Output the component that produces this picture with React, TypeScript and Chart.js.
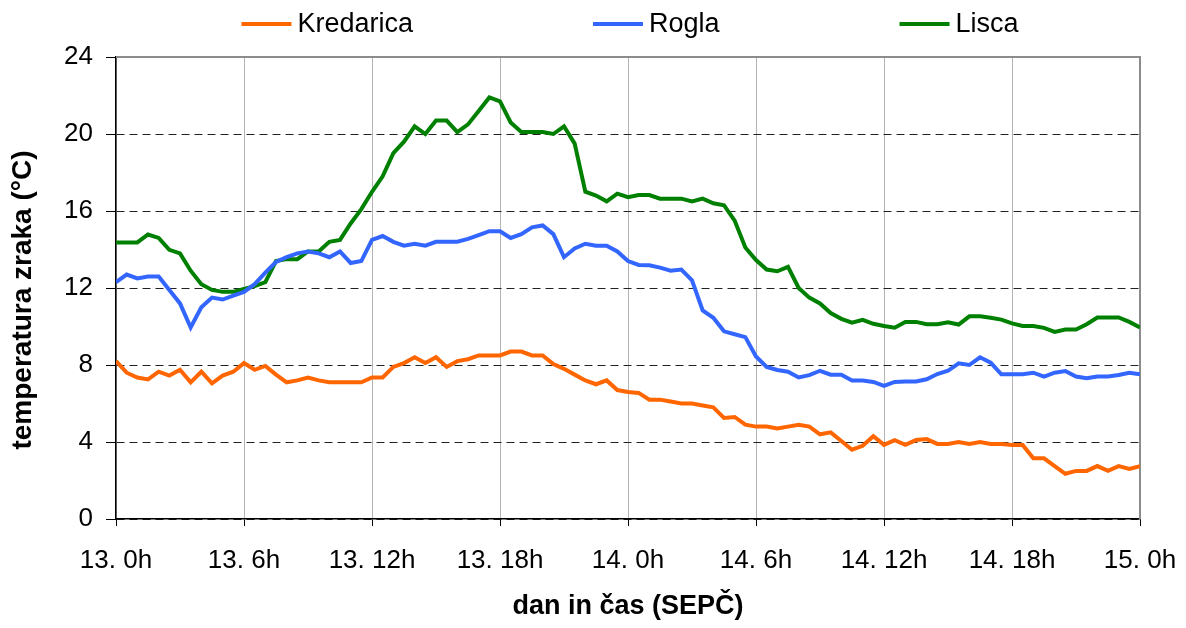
import React, { useEffect, useRef } from "react";
import { Chart, registerables } from "chart.js";

Chart.register(...registerables);

const seriesNames = ["Kredarica", "Rogla", "Lisca"];
const seriesColors = ["#FF6600", "#3366FF", "#008000"];

const kredarica = [
  8.2, 7.6, 7.35, 7.25, 7.65, 7.45, 7.75, 7.1, 7.65, 7.05, 7.45, 7.65, 8.1, 7.75, 7.95, 7.5,
  7.1, 7.2, 7.35, 7.2, 7.1, 7.1, 7.1, 7.1, 7.35, 7.35, 7.9, 8.1, 8.4, 8.1, 8.4, 7.9,
  8.2, 8.3, 8.5, 8.5, 8.5, 8.7, 8.7, 8.5, 8.5, 8.05, 7.8, 7.5, 7.2, 7.0, 7.2, 6.7,
  6.6, 6.55, 6.2, 6.2, 6.1, 6.0, 6.0, 5.9, 5.8, 5.25, 5.3, 4.9, 4.8, 4.8, 4.7, 4.8,
  4.9, 4.8, 4.4, 4.5, 4.05, 3.6, 3.8, 4.3, 3.85, 4.1, 3.85, 4.1, 4.15, 3.9, 3.9, 4.0,
  3.9, 4.0, 3.9, 3.9, 3.85, 3.85, 3.15, 3.15, 2.75, 2.35, 2.5, 2.5, 2.75, 2.5, 2.75, 2.6,
  2.75,
];

const rogla = [
  12.3, 12.7, 12.5, 12.6, 12.6, 11.9, 11.2, 9.95, 11.0, 11.5, 11.4, 11.6, 11.8, 12.2, 12.8, 13.35,
  13.6, 13.8, 13.9, 13.8, 13.6, 13.9, 13.3, 13.4, 14.5, 14.7, 14.4, 14.2, 14.3, 14.2, 14.4, 14.4,
  14.4, 14.55, 14.75, 14.95, 14.95, 14.6, 14.8, 15.15, 15.25, 14.8, 13.6, 14.05, 14.3, 14.2, 14.2, 13.9,
  13.4, 13.2, 13.18, 13.06, 12.9, 12.96, 12.4, 10.83, 10.45, 9.75, 9.6, 9.45, 8.44, 7.9, 7.74, 7.65,
  7.35, 7.47, 7.7, 7.5, 7.5, 7.2, 7.2, 7.12, 6.92, 7.12, 7.14, 7.14, 7.26, 7.53, 7.7, 8.09,
  8.0, 8.4, 8.12, 7.52, 7.52, 7.52, 7.6, 7.4, 7.6, 7.69, 7.4, 7.31, 7.4, 7.4, 7.48, 7.6,
  7.52,
];

const lisca = [
  14.37, 14.37, 14.37, 14.78, 14.6, 13.98, 13.8, 12.9, 12.2, 11.9, 11.8, 11.8, 11.95, 12.1, 12.3, 13.4,
  13.5, 13.5, 13.9, 13.9, 14.4, 14.5, 15.35, 16.1, 17.0, 17.8, 19.0, 19.6, 20.4, 20.0, 20.7, 20.7,
  20.1, 20.5, 21.2, 21.9, 21.7, 20.6, 20.1, 20.1, 20.1, 20.0, 20.4, 19.5, 17.0, 16.8, 16.5, 16.9,
  16.72, 16.83, 16.83, 16.64, 16.64, 16.64, 16.5, 16.64, 16.4, 16.3, 15.5, 14.1, 13.45, 12.96, 12.87, 13.1,
  12.0, 11.5, 11.2, 10.7, 10.4, 10.2, 10.35, 10.14, 10.03, 9.94, 10.24, 10.24, 10.12, 10.12, 10.22, 10.1,
  10.53, 10.53, 10.45, 10.36, 10.16, 10.03, 10.03, 9.93, 9.72, 9.84, 9.84, 10.12, 10.47, 10.47, 10.47, 10.24,
  9.95,
];

// hours since 13. 0h, one reading every half hour
const hours = kredarica.map((_, i) => i * 0.5);

const xTickValues = [0, 6, 12, 18, 24, 30, 36, 42, 48];
const xTickLabels = ["13. 0h", "13. 6h", "13. 12h", "13. 18h", "14. 0h", "14. 6h", "14. 12h", "14. 18h", "15. 0h"];
const yMin = 0;
const yMax = 24;
const yStep = 4;

const xTitle = "dan in čas (SEPČ)";
const yTitle = "temperatura zraka (°C)";

const FONT = "'Liberation Sans', Arial, Helvetica, sans-serif";

const legendPlugin = {
  id: "customLegend",
  afterDraw(chart: any) {
    const ctx = chart.ctx;
    const ca = chart.chartArea;
    ctx.save();
    ctx.font = `27px ${FONT}`;
    ctx.textBaseline = "middle";
    ctx.textAlign = "left";
    const sample = 50;
    const gapText = 6;
    const gap = 180;
    const items = chart.data.datasets.map((ds: any) => ({
      label: ds.label,
      color: ds.borderColor,
      w: sample + gapText + ctx.measureText(ds.label).width,
    }));
    const total = items.reduce((s: number, it: any) => s + it.w, 0) + gap * (items.length - 1);
    let x = (ca.left + ca.right) / 2 - total / 2 + 2;
    const y = 24;
    for (const it of items) {
      ctx.strokeStyle = it.color;
      ctx.lineWidth = 4;
      ctx.beginPath();
      ctx.moveTo(x, y);
      ctx.lineTo(x + sample, y);
      ctx.stroke();
      ctx.fillStyle = "#000";
      ctx.fillText(it.label, x + sample + gapText, y + 1);
      x += it.w + gap;
    }
    ctx.restore();
  },
};

const yTitlePlugin = {
  id: "yTitle",
  afterDraw(chart: any) {
    const ctx = chart.ctx;
    ctx.save();
    ctx.font = `bold 28px ${FONT}`;
    ctx.fillStyle = "#000";
    ctx.textAlign = "center";
    ctx.textBaseline = "middle";
    ctx.translate(23, 300);
    ctx.rotate(-Math.PI / 2);
    ctx.fillText(yTitle, 0, 0);
    ctx.restore();
  },
};

const framePlugin = {
  id: "frameTop",
  beforeDatasetsDraw(chart: any) {
    const ctx = chart.ctx;
    const ca = chart.chartArea;
    ctx.save();
    ctx.strokeStyle = "#8c8c8c";
    ctx.lineWidth = 2;
    ctx.beginPath();
    ctx.moveTo(ca.left, ca.top);
    ctx.lineTo(ca.right, ca.top);
    ctx.lineTo(ca.right, ca.bottom);
    ctx.stroke();
    ctx.restore();
  },
};

export default function App() {
  const canvasRef = useRef<HTMLCanvasElement | null>(null);

  useEffect(() => {
    if (!canvasRef.current) return;
    Chart.defaults.color = "#000";
    const seriesData = [kredarica, rogla, lisca];
    const chart = new Chart(canvasRef.current, {
      type: "line",
      data: {
        datasets: seriesData.map((vals, si) => ({
          label: seriesNames[si],
          data: vals.map((v, i) => ({ x: hours[i], y: v })),
          borderColor: seriesColors[si],
          backgroundColor: seriesColors[si],
          borderWidth: 4,
          pointRadius: 0,
          tension: 0,
          fill: false,
        })),
      },
      options: {
        animation: false,
        responsive: true,
        maintainAspectRatio: false,
        layout: { padding: { top: 57, right: 46, left: 0, bottom: 0 } },
        plugins: {
          legend: { display: false },
          tooltip: { enabled: false },
        },
        scales: {
          x: {
            type: "linear",
            min: 0,
            max: 48,
            afterBuildTicks: (scale: any) => {
              scale.ticks = xTickValues.map((v) => ({ value: v }));
            },
            afterFit: (scale: any) => {
              scale.height = 109;
            },
            ticks: {
              font: { family: FONT, size: 26, lineHeight: 2.0 },
              color: "#000",
              padding: 9,
              maxRotation: 0,
              autoSkip: false,
              callback: (value: any) => {
                const idx = xTickValues.indexOf(Number(value));
                return idx >= 0 ? xTickLabels[idx] : "";
              },
            },
            grid: {
              color: "#b4b4b4",
              lineWidth: 1,
              tickLength: 7,
              tickColor: "#000",
            },
            border: { color: "#000", width: 1.5 },
            title: {
              display: true,
              text: xTitle,
              font: { family: FONT, size: 27, weight: "bold" },
              color: "#000",
              padding: { top: 0, bottom: 5 },
            },
          },
          y: {
            min: yMin,
            max: yMax,
            afterFit: (scale: any) => {
              scale.width = 116;
            },
            ticks: {
              stepSize: yStep,
              font: { family: FONT, size: 26 },
              color: "#000",
              padding: 13,
            },
            grid: {
              color: (ctx: any) => (ctx.tick && ctx.tick.value === yMax ? "rgba(0,0,0,0)" : "#222"),
              lineWidth: 1,
              tickLength: 10,
              tickColor: "#000",
            },
            border: { color: "#000", width: 1.5, dash: [8, 5] },
            title: { display: false },
          },
        },
      },
      plugins: [framePlugin, legendPlugin, yTitlePlugin],
    });
    return () => chart.destroy();
  }, []);

  return (
    <div style={{ position: "fixed", left: 0, top: 0, width: 1186, height: 628, background: "#fff" }}>
      <canvas ref={canvasRef} />
    </div>
  );
}
